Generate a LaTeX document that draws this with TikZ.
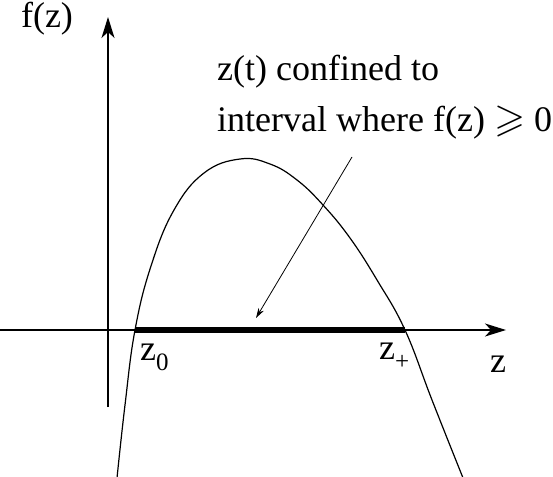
\documentclass[tikz,border=0pt]{standalone}
\usepackage{amssymb}
\usepackage{fontspec}
\setmainfont{Liberation Serif}
\usetikzlibrary{arrows.meta}
\newcommand{\lowsub}[1]{\raisebox{-0.30em}{\fontsize{25}{25}\selectfont #1}}
\begin{document}
\begin{tikzpicture}[x=1pt,y=-1pt,
  axis/.style={line width=1.3pt,-{Stealth[length=21pt,width=13pt,inset=6pt]}},
  curve/.style={line width=1.2pt},
  band/.style={line width=6.5pt},
  pointer/.style={line width=0.8pt,-{Stealth[length=10pt,width=6pt,inset=3pt]}},
  lbl/.style={inner sep=0pt,font=\fontsize{36}{48}\selectfont}]
\useasboundingbox (0,0) rectangle (553,476);
% axes
\coordinate (xs) at (0,330);
\coordinate (xe) at (506,330);
\coordinate (ys) at (108,407);
\coordinate (ye) at (108,17);
\draw[axis] (xs) -- (xe);
\draw[axis] (ys) -- (ye);
% interval
\coordinate (z0) at (135,330);
\coordinate (zp) at (405,330);
\draw[band] (z0) -- (zp);
% curve
\draw[curve] plot[smooth,tension=0.7] coordinates {(117,478) (125,405) (135,330) (151,266) (174,210) (204,173) (240,159) (270,164) (297,180) (323,205) (350,238) (377,280) (405,330) (432,400) (463,478)};
% labels
\node[lbl,anchor=base] (fz) at (47,28) {f(z)};
\node[lbl,anchor=base west] (t1) at (217,81) {z(t) confined to};
\node[lbl,anchor=base west] (t2) at (217,131) {interval where f(z) {\fontsize{40}{40}\selectfont$\geqslant$} 0};
\node[lbl,anchor=base west] (lz0) at (140,360) {z\lowsub{0}};
\node[lbl,anchor=base west] (lzp) at (379,359) {z\lowsub{+}};
\node[lbl,anchor=base west] (lz) at (490,372) {z};
% pointer
\coordinate (ps) at (352,157);
\coordinate (pe) at (256,318);
\draw[pointer] (ps) -- (pe);
\end{tikzpicture}
\end{document}
